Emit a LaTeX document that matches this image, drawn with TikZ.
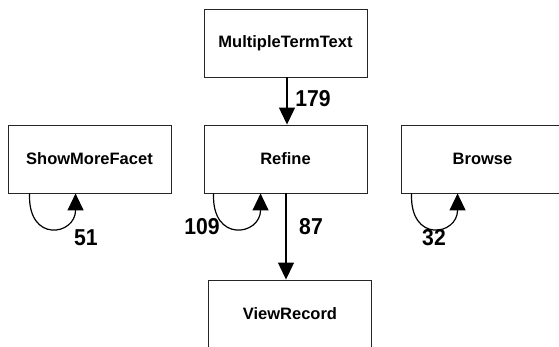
\documentclass[tikz,border=0pt]{standalone}
\usepackage{fontspec}
\setmainfont{Liberation Sans}
\usetikzlibrary{arrows.meta}
\tikzset{
  statebox/.style={draw=black!85, line width=0.9pt, fill=white,
    minimum width=163pt, minimum height=68pt, inner sep=0pt,
    font=\fontsize{16.5}{19}\selectfont\bfseries},
  flow/.style={line width=1.2pt, -{Triangle[length=17pt,width=16pt]}},
  count/.style={font=\fontsize{23}{25}\selectfont\bfseries, inner sep=0pt,
    xscale=0.92}
}
\begin{document}
\begin{tikzpicture}[x=1pt,y=-1pt]
  \useasboundingbox (0,0) rectangle (559,347);
  \clip (0,0) rectangle (559,347);

  % states
  \node[statebox] (mtt)    at (285.5,43)  {MultipleTermText};
  \node[statebox] (refine) at (285.5,159) {Refine};
  \node[statebox] (smf)    at (89.5,159)  {ShowMoreFacet};
  \node[statebox] (browse) at (482.5,159) {Browse};
  \node[statebox] (view)   at (290,314)   {ViewRecord};

  % transitions between states
  \draw[flow] ([xshift=1.5pt]mtt.south) -- ([xshift=1.5pt]refine.north);
  \draw[flow] ([xshift=0.5pt]refine.south) -- ([xshift=0.5pt]refine.south |- view.north);

  % self loops under the boxes
  \draw[flow] ([xshift=22pt]smf.south west) .. controls +(-2,50) and +(0,42) .. ([xshift=68pt]smf.south west);
  \draw[flow] ([xshift=10pt]refine.south west) .. controls +(-2,50) and +(0,42) .. ([xshift=57pt]refine.south west);
  \draw[flow] ([xshift=11pt]browse.south west) .. controls +(-2,50) and +(0,42) .. ([xshift=57pt]browse.south west);

  % transition counts
  \node[count] (n179) at (313,99)  {179};
  \node[count] (n87)  at (311,227) {87};
  \node[count] (n109) at (202,227) {109};
  \node[count] (n51)  at (86,238)  {51};
  \node[count] (n32)  at (434,238) {32};
\end{tikzpicture}
\end{document}
